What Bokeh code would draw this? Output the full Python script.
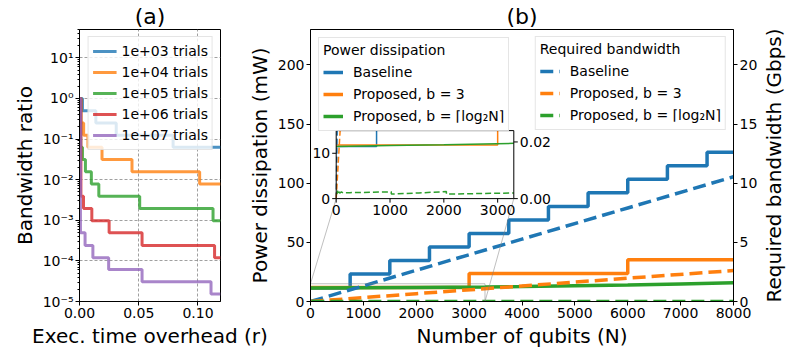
import numpy as np
from bokeh.plotting import figure
from bokeh.layouts import row
from bokeh.models import (Range1d, LinearAxis, FixedTicker, CustomJSTickFormatter,
                          NumeralTickFormatter, Legend, LegendItem)
from bokeh.embed import file_html
from bokeh.resources import INLINE
from bokeh.core.properties import value

FONT = "DejaVu Sans"
BLUE, ORANGE, GREEN, RED, PURPLE = "#1f77b4", "#ff7f0e", "#2ca02c", "#d62728", "#9467bd"

# ---------------- panel (a) data ----------------
trial_labels = ["1e+03 trials", "1e+04 trials", "1e+05 trials", "1e+06 trials", "1e+07 trials"]
r_1e3 = [0, 0.0025, 0.0138, 0.031, 0.079]
bw_1e3 = [1, 0.5, 0.25, 0.125, 0.0625]
r_1e4 = [0, 0.0012, 0.0035, 0.0071, 0.019, 0.0443, 0.1014]
bw_1e4 = [1, 0.25, 0.125, 0.0625, 0.03125, 0.0156, 0.0078]
r_1e5 = [0, 0.0010, 0.0025, 0.0050, 0.0100, 0.0163, 0.0508, 0.1127]
bw_1e5 = [1, 0.0625, 0.03125, 0.0156, 0.0078, 0.0039, 0.00195, 0.00098]
r_1e6 = [0, 0.0012, 0.0034, 0.0104, 0.025, 0.0528, 0.114]
bw_1e6 = [1, 0.0039, 0.00195, 0.00098, 0.00049, 0.00024, 0.00012]
r_1e7 = [0, 0.0008, 0.0047, 0.0113, 0.0246, 0.0528, 0.111]
bw_1e7 = [1, 0.00049, 0.00024, 0.00012, 6.1e-5, 3.05e-5, 1.53e-5]
R_MAX = 0.119
x_ticks_a = [0, 0.05, 0.10]
y_decades_a = [1e-5, 1e-4, 1e-3, 1e-2, 1e-1, 1, 10]

# ---------------- panel (b) data ----------------
N_base = [0, 750, 1500, 2250, 3000, 3750, 4500, 5250, 6000, 6750, 7500]
P_base = [11.5, 23.2, 34.6, 46.0, 57.5, 69.0, 80.4, 91.9, 103.4, 114.8, 126.3]
N_b3 = [0, 3000, 6000]
P_b3 = [11.8, 23.6, 35.4]
N_log = [0, 1000, 2000, 3300, 4000, 5000, 6000, 7000, 8000]
P_log = [11.5, 11.7, 11.9, 12.2, 12.6, 13.3, 14.0, 14.9, 15.8]
N_bw = [0, 2000, 4000, 6000, 8000]
BW_base = [0, 2.64, 5.27, 7.91, 10.55]
BW_b3 = [0, 0.66, 1.31, 1.97, 2.62]
N_bwlog = [16, 24, 32, 48, 64, 96, 128, 256, 512, 1023, 1024, 1536, 2047, 2048, 3000, 4095, 4096, 6000, 8000]
BW_log = [0.0016, 0.0028, 0.0018, 0.0026, 0.0019, 0.0024, 0.0020, 0.0021, 0.0022, 0.0024,
          0.0016, 0.0020, 0.0025, 0.0016, 0.0019, 0.0022, 0.0015, 0.0018, 0.0020]
N_MAX = 8000
P_MAX = 230
BW_MAX = 23
x_ticks_b = [0, 1000, 2000, 3000, 4000, 5000, 6000, 7000, 8000]
yl_ticks_b = [0, 50, 100, 150, 200]
yr_ticks_b = [0, 5, 10, 15, 20]
INSET_N = 3300
INSET_P = 15
INSET_BW = 0.024
inset_x_ticks = [0, 1000, 2000, 3000]
inset_yl_ticks = [0, 10]
inset_yr_ticks = [0.0, 0.02]


def style_axis(ax):
    ax.major_label_text_font = FONT
    ax.major_label_text_font_size = "14px"
    ax.major_label_text_color = "black"
    ax.axis_label_text_font = FONT
    ax.axis_label_text_font_size = "20px"
    ax.axis_label_text_font_style = "normal"
    ax.axis_label_text_color = "black"
    ax.axis_line_color = "black"
    ax.major_tick_line_color = "black"
    ax.minor_tick_line_color = "black"
    ax.major_tick_in = 0
    ax.major_tick_out = 4
    ax.minor_tick_in = 0
    ax.minor_tick_out = 2
    ax.major_label_standoff = 2
    ax.axis_label_standoff = 3


def ext(xs, ys, xmax):
    return list(xs) + [xmax], list(ys) + [ys[-1]]


def style_title(p, txt):
    p.title.text = txt
    p.title.align = "center"
    p.title.text_font = FONT
    p.title.text_font_size = "22px"
    p.title.text_font_style = "normal"
    p.title.text_color = "black"
    p.title.standoff = 2


H = 350
TOP_B = 27
BOT_B = 49
# ---------------- panel (a) ----------------
pa = figure(width=290, height=H, x_range=Range1d(0, R_MAX), y_range=Range1d(1e-5, 50),
            y_axis_type="log", output_backend="svg", toolbar_location=None,
            min_border_left=79, min_border_right=70, min_border_top=TOP_B, min_border_bottom=BOT_B)
style_title(pa, "(a)")
pa.outline_line_color = "black"
pa.xaxis.axis_label = "Exec. time overhead (r)"
pa.yaxis.axis_label = "Bandwidth ratio"
for ax in pa.axis:
    style_axis(ax)
pa.xaxis.ticker = FixedTicker(ticks=x_ticks_a)
pa.xaxis.formatter = NumeralTickFormatter(format="0.00")
pa.xaxis.minor_tick_line_color = None
minor_a = [k * d for d in y_decades_a for k in range(2, 10)]
pa.yaxis.ticker = FixedTicker(ticks=y_decades_a, minor_ticks=minor_a)
pa.yaxis.formatter = CustomJSTickFormatter(code="""
const e = Math.round(Math.log10(tick));
const sup = {"-":"\u207b","0":"\u2070","1":"\u00b9","2":"\u00b2","3":"\u00b3","4":"\u2074",
             "5":"\u2075","6":"\u2076","7":"\u2077","8":"\u2078","9":"\u2079"};
return "10" + String(e).split("").map(c => sup[c]).join("");
""")
for g in (pa.xgrid, pa.ygrid):
    g.grid_line_color = "#888888"
    g.grid_line_dash = "3 2"
    g.grid_line_width = 0.8
pa.xgrid.ticker = pa.xaxis.ticker
pa.ygrid.ticker = pa.yaxis.ticker

series_a = [(r_1e3, bw_1e3, BLUE), (r_1e4, bw_1e4, ORANGE), (r_1e5, bw_1e5, GREEN),
            (r_1e6, bw_1e6, RED), (r_1e7, bw_1e7, PURPLE)]
items_a = []
for (rr, bb, c), lab in zip(series_a, trial_labels):
    xs, ys = ext(rr, bb, R_MAX)
    rend = pa.step(xs, ys, mode="after", line_color=c, line_width=3, line_alpha=0.8)
    items_a.append(LegendItem(label=lab, renderers=[rend]))
leg_a = Legend(items=items_a, location="top_right", margin=7, padding=4, spacing=1,
               label_height=20, glyph_height=20, glyph_width=24, label_standoff=5,
               label_text_font=FONT, label_text_font_size="14px", label_text_color="black",
               background_fill_alpha=0.8, border_line_color="#cccccc")
pa.add_layout(leg_a)

# ---------------- panel (b) ----------------
pb = figure(width=516, height=H, x_range=Range1d(0, N_MAX), y_range=Range1d(0, P_MAX),
            output_backend="svg", toolbar_location=None, margin=(0, 0, 0, -46),
            min_border_left=60, min_border_right=27, min_border_top=TOP_B, min_border_bottom=BOT_B)
pb.border_fill_alpha = 0
style_title(pb, "(b)")
pb.outline_line_color = "black"
pb.xgrid.visible = False
pb.ygrid.visible = False
bw_range = Range1d(0, BW_MAX)
pb.extra_y_ranges = {"bw": bw_range}
right_ax = LinearAxis(y_range_name="bw", ticker=FixedTicker(ticks=yr_ticks_b))
pb.add_layout(right_ax, "right")
pb.xaxis.axis_label = "Number of qubits (N)"
pb.yaxis[0].axis_label = "Power dissipation (mW)"
pb.xaxis.ticker = FixedTicker(ticks=x_ticks_b)
pb.yaxis[0].ticker = FixedTicker(ticks=yl_ticks_b)
for ax in pb.axis:
    style_axis(ax)
    ax.minor_tick_line_color = None

LW = 3.5
DASH = "13 6"
xs, ys = ext(N_base, P_base, N_MAX)
r_pb = pb.step(xs, ys, mode="after", line_color=BLUE, line_width=LW)
xs, ys = ext(N_b3, P_b3, N_MAX)
r_p3 = pb.step(xs, ys, mode="after", line_color=ORANGE, line_width=LW)
r_pl = pb.line(N_log, P_log, line_color=GREEN, line_width=LW)
r_bb = pb.line(N_bw, BW_base, y_range_name="bw", line_color=BLUE, line_width=LW, line_dash=DASH)
r_b3 = pb.line(N_bw, BW_b3, y_range_name="bw", line_color=ORANGE, line_width=LW, line_dash=DASH)
r_bl = pb.line(N_bwlog, BW_log, y_range_name="bw", line_color=GREEN, line_width=LW, line_dash=DASH)

# inset placement (in main data coordinates)
tx = Range1d(486, 3845)
ty = Range1d(87, 144.5)
pb.quad(left=[0], right=[INSET_N], bottom=[0], top=[INSET_P], fill_color=None,
        line_color="gray", line_alpha=0.5, line_width=1)
pb.segment(x0=[0, INSET_N], y0=[INSET_P, 0], x1=[tx.start, tx.end], y1=[ty.start, ty.start],
           line_color="gray", line_alpha=0.5, line_width=1)
pb.quad(left=[tx.start], right=[tx.end], bottom=[ty.start], top=[ty.end],
        fill_color="white", line_color=None)

ins_p = pb.subplot(x_source=Range1d(0, INSET_N), y_source=Range1d(0, INSET_P),
                   x_target=tx, y_target=ty)
ins_b = pb.subplot(x_source=Range1d(0, INSET_N), y_source=Range1d(0, INSET_BW),
                   x_target=tx, y_target=ty)


def step_path(xs, ys):
    px, py = [xs[0]], [ys[0]]
    for i in range(1, len(xs)):
        px += [xs[i], xs[i]]
        py += [ys[i - 1], ys[i]]
    return px, py


def clip_poly(px, py, xmax, ymax):
    out_x, out_y = [], []
    cur_x, cur_y = [], []
    for i in range(len(px) - 1):
        x0, y0, x1, y1 = px[i], py[i], px[i + 1], py[i + 1]
        dx, dy = x1 - x0, y1 - y0
        t0, t1 = 0.0, 1.0
        ok = True
        for p, q in ((-dx, x0), (dx, xmax - x0), (-dy, y0), (dy, ymax - y0)):
            if p == 0:
                if q < 0:
                    ok = False
                    break
            else:
                t = q / p
                if p < 0:
                    t0 = max(t0, t)
                else:
                    t1 = min(t1, t)
        if not ok or t0 > t1:
            if cur_x:
                out_x.append(cur_x); out_y.append(cur_y); cur_x, cur_y = [], []
            continue
        ax_, ay_ = x0 + t0 * dx, y0 + t0 * dy
        bx_, by_ = x0 + t1 * dx, y0 + t1 * dy
        if cur_x and (abs(cur_x[-1] - ax_) > 1e-9 or abs(cur_y[-1] - ay_) > 1e-12):
            out_x.append(cur_x); out_y.append(cur_y); cur_x, cur_y = [], []
        if not cur_x:
            cur_x, cur_y = [ax_], [ay_]
        cur_x.append(bx_); cur_y.append(by_)
        if t1 < 1.0:
            out_x.append(cur_x); out_y.append(cur_y); cur_x, cur_y = [], []
    if cur_x:
        out_x.append(cur_x); out_y.append(cur_y)
    return out_x, out_y


ILW = 1.5
IDASH = "6 3"
for (nx, vy, c) in ((N_base, P_base, BLUE), (N_b3, P_b3, ORANGE)):
    xs, ys = ext(nx, vy, N_MAX)
    sx, sy = step_path(xs, ys)
    cx, cy = clip_poly(sx, sy, INSET_N, INSET_P)
    ins_p.multi_line(cx, cy, line_color=c, line_width=ILW)
cx, cy = clip_poly(N_log, P_log, INSET_N, INSET_P)
ins_p.multi_line(cx, cy, line_color=GREEN, line_width=ILW)
for (nx, vy, c) in ((N_bw, BW_base, BLUE), (N_bw, BW_b3, ORANGE), (N_bwlog, BW_log, GREEN)):
    cx, cy = clip_poly(nx, vy, INSET_N, INSET_BW)
    ins_b.multi_line(cx, cy, line_color=c, line_width=ILW, line_dash=IDASH)

pb.quad(left=[tx.start], right=[tx.end], bottom=[ty.start], top=[ty.end],
        fill_color=None, line_color="black", line_width=1)
ins_p.ray(x=inset_x_ticks, y=[0] * len(inset_x_ticks), length=4, length_units="screen",
          angle=-np.pi / 2, line_color="black", line_width=1)
ins_p.ray(x=[0] * len(inset_yl_ticks), y=inset_yl_ticks, length=4, length_units="screen",
          angle=np.pi, line_color="black", line_width=1)
ins_b.ray(x=[INSET_N] * len(inset_yr_ticks), y=inset_yr_ticks, length=4, length_units="screen",
          angle=0, line_color="black", line_width=1)
ins_p.text(x=inset_x_ticks, y=[0] * len(inset_x_ticks), text=[str(t) for t in inset_x_ticks],
           text_align="center", text_baseline="top", y_offset=6,
           text_font=value(FONT), text_font_size="14px", text_color="black")
ins_p.text(x=[0] * len(inset_yl_ticks), y=inset_yl_ticks, text=[str(t) for t in inset_yl_ticks],
           text_align="right", text_baseline="middle", x_offset=-6,
           text_font=value(FONT), text_font_size="14px", text_color="black")
ins_b.text(x=[INSET_N] * len(inset_yr_ticks), y=inset_yr_ticks,
           text=["%.2f" % t for t in inset_yr_ticks],
           text_align="left", text_baseline="middle", x_offset=6,
           text_font=value(FONT), text_font_size="14px", text_color="black")

labels_b = ["Baseline", "Proposed, b = 3", "Proposed, b = \u2308log\u2082N\u2309"]
common = dict(padding=4, spacing=2, label_height=20, glyph_height=20, glyph_width=20,
              label_standoff=10, label_text_font=FONT, label_text_font_size="14px",
              label_text_color="black",
              title_text_font=FONT, title_text_font_size="14px", title_text_font_style="normal",
              title_text_color="black",
              title_standoff=4, background_fill_alpha=0.8, border_line_color="#cccccc")
leg1 = Legend(items=[LegendItem(label=l, renderers=[r]) for l, r in zip(labels_b, [r_pb, r_p3, r_pl])],
              title="Power dissipation", location="top_left", margin=8, **common)
leg2 = Legend(items=[LegendItem(label=l, renderers=[r]) for l, r in zip(labels_b, [r_bb, r_b3, r_bl])],
              title="Required bandwidth", location="top_right", margin=7, **common)
pb.add_layout(leg1)
pb.add_layout(leg2)

# narrow companion figure carrying the right-hand axis title (reads bottom-to-top)
pr = figure(width=30, height=H, y_range=bw_range, x_range=Range1d(0, 1),
            output_backend="svg", toolbar_location=None, x_axis_location=None,
            margin=(0, 0, 0, -3), min_border_left=28, min_border_right=0,
            min_border_top=TOP_B, min_border_bottom=BOT_B)
pr.outline_line_color = None
pr.background_fill_alpha = 0
pr.border_fill_alpha = 0
pr.xgrid.visible = False
pr.ygrid.visible = False
pr.yaxis.ticker = FixedTicker(ticks=[])
pr.yaxis.axis_line_color = None
pr.yaxis.major_tick_line_color = None
pr.yaxis.minor_tick_line_color = None
pr.yaxis.axis_label = "Required bandwidth (Gbps)"
pr.yaxis.axis_label_text_font = FONT
pr.yaxis.axis_label_text_font_size = "20px"
pr.yaxis.axis_label_text_font_style = "normal"
pr.yaxis.axis_label_text_color = "black"
pr.yaxis.axis_label_standoff = 0
pr.scatter([0.5], [0], size=0, alpha=0)

layout = row(pa, pb, pr)
open("out.html", "w").write(file_html(layout, INLINE))
